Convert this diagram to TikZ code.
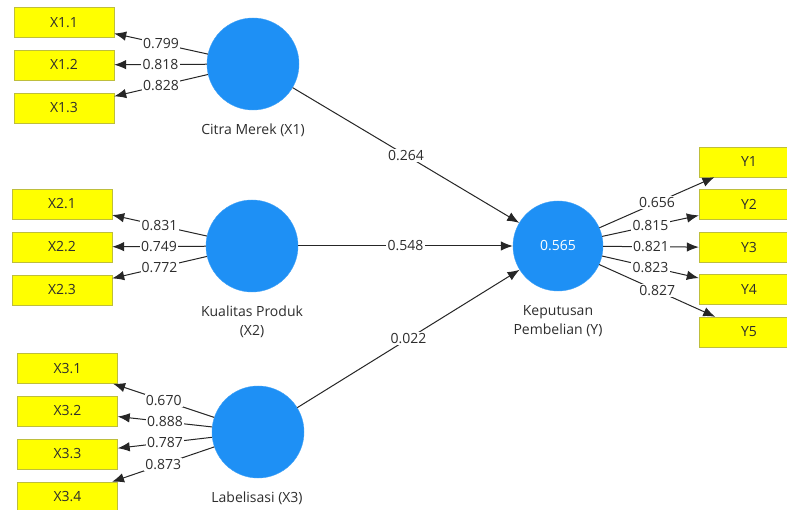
\documentclass[tikz,border=0pt]{standalone}
\usepackage{fontspec}
\setmainfont{Open Sans}
\usetikzlibrary{arrows.meta}
\definecolor{lvblue}{RGB}{30,144,245}
\definecolor{boxyellow}{RGB}{255,255,0}
\definecolor{boxedge}{RGB}{190,190,60}
\definecolor{txt}{RGB}{45,45,45}
\begin{document}
\begin{tikzpicture}[x=1pt,y=-1pt,
  ind/.style={draw=boxedge, fill=boxyellow, minimum width=100pt, minimum height=30pt, inner sep=0pt, font=\fontsize{14}{16}\selectfont, text=txt},
  lv/.style={circle, fill=lvblue, draw=lvblue!85!white, minimum size=92pt, inner sep=0pt, font=\fontsize{14}{16}\selectfont, text=white},
  lvlab/.style={font=\fontsize{14}{19}\selectfont, text=txt, align=center},
  conn/.style={draw=black!85, line width=1pt, -{Latex[length=12pt,width=9.5pt]}},
  coef/.style={fill=white, inner sep=1.2pt, font=\fontsize{14}{16}\selectfont, text=txt}]
\useasboundingbox (0,0) rectangle (787,510);
\fill[white] (0,0) rectangle (787,510);
\clip (0,0) rectangle (787,510);

% latent variables
\node[lv] (X1) at (253,64) {};
\node[lv] (X2) at (252,246) {};
\node[lv] (X3) at (258,432) {};
\node[lv, minimum size=90pt] (Y) at (558,246) {0.565};

\node[lvlab] (lX1) at (253,130) {Citra Merek (X1)};
\node[lvlab] (lX2) at (252,322) {Kualitas Produk\\(X2)};
\node[lvlab] (lX3) at (257,498) {Labelisasi (X3)};
\node[lvlab] (lY) at (558,321) {Keputusan\\Pembelian (Y)};

% indicators
\node[ind] (x11) at (64,22.5) {X1.1};
\node[ind] (x12) at (64,65) {X1.2};
\node[ind] (x13) at (64,108) {X1.3};
\node[ind] (x21) at (62,204) {X2.1};
\node[ind] (x22) at (62,247) {X2.2};
\node[ind] (x23) at (62,290) {X2.3};
\node[ind] (x31) at (67.5,368.5) {X3.1};
\node[ind] (x32) at (67.5,411) {X3.2};
\node[ind] (x33) at (67.5,454) {X3.3};
\node[ind] (x34) at (67.5,497) {X3.4};
\node[ind] (y1) at (749,162) {Y1};
\node[ind] (y2) at (749,204.5) {Y2};
\node[ind] (y3) at (749,247.5) {Y3};
\node[ind] (y4) at (749,289.5) {Y4};
\node[ind] (y5) at (749,332) {Y5};

% loadings
\draw[conn] (X1) -- node[coef] {0.799} (x11);
\draw[conn] (X1) -- node[coef] {0.818} (x12);
\draw[conn] (X1) -- node[coef] {0.828} (x13);
\draw[conn] (X2) -- node[coef] {0.831} (x21);
\draw[conn] (X2) -- node[coef] {0.749} (x22);
\draw[conn] (X2) -- node[coef] {0.772} (x23);
\draw[conn] (X3) -- node[coef] {0.670} (x31);
\draw[conn] (X3) -- node[coef] {0.888} (x32);
\draw[conn] (X3) -- node[coef] {0.787} (x33);
\draw[conn] (X3) -- node[coef] {0.873} (x34);
\draw[conn] (Y) -- node[coef] {0.656} (y1);
\draw[conn] (Y) -- node[coef] {0.815} (y2);
\draw[conn] (Y) -- node[coef] {0.821} (y3);
\draw[conn] (Y) -- node[coef] {0.823} (y4);
\draw[conn] (Y) -- node[coef] {0.827} (y5);

% path coefficients
\draw[conn] (X1) -- node[coef] {0.264} (Y);
\draw[conn] (X2) -- node[coef] {0.548} (Y);
\draw[conn] (X3) -- node[coef] {0.022} (Y);
\end{tikzpicture}
\end{document}
